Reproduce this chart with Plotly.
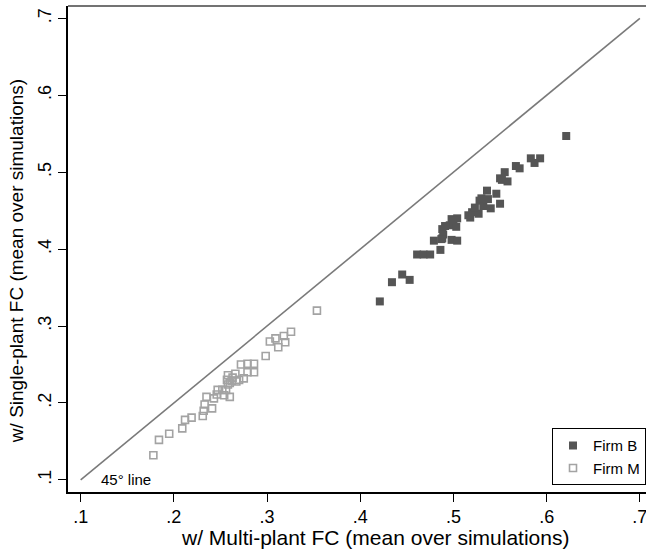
import plotly.graph_objects as go

# Firm B: multi-plant vs single-plant fixed-cost estimates
firm_b_x = [0.421, 0.434, 0.445, 0.453, 0.461, 0.468, 0.475, 0.479, 0.486, 0.488,
            0.498, 0.504, 0.488, 0.489, 0.496, 0.503, 0.498, 0.504, 0.518, 0.516,
            0.520, 0.527, 0.523, 0.532, 0.540, 0.528, 0.530, 0.537, 0.550, 0.536,
            0.546, 0.550, 0.558, 0.555, 0.567, 0.571, 0.583, 0.593, 0.587, 0.621,
            0.487, 0.491, 0.500, 0.552]
firm_b_y = [0.332, 0.357, 0.367, 0.360, 0.393, 0.393, 0.393, 0.411, 0.399, 0.414,
            0.412, 0.411, 0.426, 0.419, 0.431, 0.429, 0.439, 0.440, 0.441, 0.444,
            0.448, 0.446, 0.454, 0.456, 0.453, 0.463, 0.466, 0.465, 0.459, 0.476,
            0.472, 0.492, 0.488, 0.500, 0.508, 0.505, 0.518, 0.518, 0.512, 0.547,
            0.413, 0.430, 0.437, 0.490]

# Firm M
firm_m_x = [0.178, 0.184, 0.195, 0.209, 0.212, 0.219, 0.231, 0.232, 0.233, 0.241,
            0.235, 0.243, 0.246, 0.254, 0.260, 0.247, 0.252, 0.256, 0.258, 0.257,
            0.262, 0.267, 0.270, 0.258, 0.266, 0.260, 0.263, 0.275, 0.279, 0.286,
            0.272, 0.279, 0.286, 0.2985, 0.303, 0.309, 0.318, 0.3195, 0.312, 0.3257,
            0.3535]
firm_m_y = [0.132, 0.152, 0.160, 0.167, 0.178, 0.181, 0.183, 0.190, 0.198, 0.193,
            0.208, 0.206, 0.211, 0.210, 0.208, 0.217, 0.217, 0.217, 0.224, 0.230,
            0.229, 0.228, 0.230, 0.236, 0.238, 0.226, 0.233, 0.232, 0.240, 0.240,
            0.250, 0.251, 0.251, 0.261, 0.280, 0.284, 0.287, 0.279, 0.2725, 0.2926,
            0.320]

# 45-degree reference line endpoints
diag = [0.1, 0.7]

tick_vals = [0.1, 0.2, 0.3, 0.4, 0.5, 0.6, 0.7]
tick_text = [".1", ".2", ".3", ".4", ".5", ".6", ".7"]

x_title = "w/ Multi-plant FC (mean over simulations)"
y_title = "w/ Single-plant FC (mean over simulations)"

FONT = "Liberation Sans, Arial, sans-serif"

fig = go.Figure()

fig.add_trace(go.Scatter(
    x=diag, y=diag, mode="lines",
    line=dict(color="#7a7a7a", width=1.6),
    showlegend=False, hoverinfo="skip",
))

fig.add_trace(go.Scatter(
    x=firm_b_x, y=firm_b_y, mode="markers", name="Firm B",
    marker=dict(symbol="square", size=8, color="#555555",
                line=dict(width=0)),
))

fig.add_trace(go.Scatter(
    x=firm_m_x, y=firm_m_y, mode="markers", name="Firm M",
    marker=dict(symbol="square-open", size=7, color="#a3a3a3",
                line=dict(width=1.6)),
))

fig.add_annotation(
    x=0.12, y=0.1, xref="x", yref="y", text="45° line",
    showarrow=False, xanchor="left", yanchor="middle",
    font=dict(family=FONT, size=15, color="#000000"),
)

# axis titles placed as annotations
fig.add_annotation(
    x=0.531, y=-0.093, xref="paper", yref="paper", text=x_title,
    showarrow=False, xanchor="center", yanchor="middle",
    font=dict(family=FONT, size=21, color="#000000"),
)
fig.add_annotation(
    x=-0.09, y=0.475, xref="paper", yref="paper", text=y_title,
    showarrow=False, xanchor="center", yanchor="middle", textangle=-90,
    font=dict(family=FONT, size=19, color="#000000"),
)

# top border of the plot region
fig.add_shape(type="line", xref="paper", yref="paper",
              x0=0, x1=1, y0=1, y1=1,
              line=dict(color="#444444", width=1.5))

fig.update_layout(
    width=646, height=550,
    margin=dict(l=68, r=0, t=6, b=58),
    paper_bgcolor="white", plot_bgcolor="white",
    font=dict(family=FONT, size=18, color="#000000"),
    legend=dict(
        x=1, xanchor="right", y=0.014, yanchor="bottom",
        bordercolor="#000000", borderwidth=1,
        font=dict(family=FONT, size=15),
        bgcolor="white", tracegroupgap=2,
    ),
)

fig.update_xaxes(
    range=[0.0864, 0.7066], tickvals=tick_vals, ticktext=tick_text,
    ticks="outside", ticklen=8, tickwidth=1.2, tickcolor="#000000",
    showline=True, linecolor="#000000", linewidth=1.5,
    showgrid=False, zeroline=False, ticklabeloverflow="allow",
    tickfont=dict(size=18),
)

fig.update_yaxes(
    range=[0.0843, 0.716], tickvals=tick_vals, ticktext=tick_text,
    ticks="outside", ticklen=8, tickwidth=1.2, tickcolor="#000000",
    showline=True, linecolor="#000000", linewidth=1.5,
    showgrid=False, zeroline=False, tickangle=-90,
    tickfont=dict(size=18),
)

fig.write_html("out.html")
